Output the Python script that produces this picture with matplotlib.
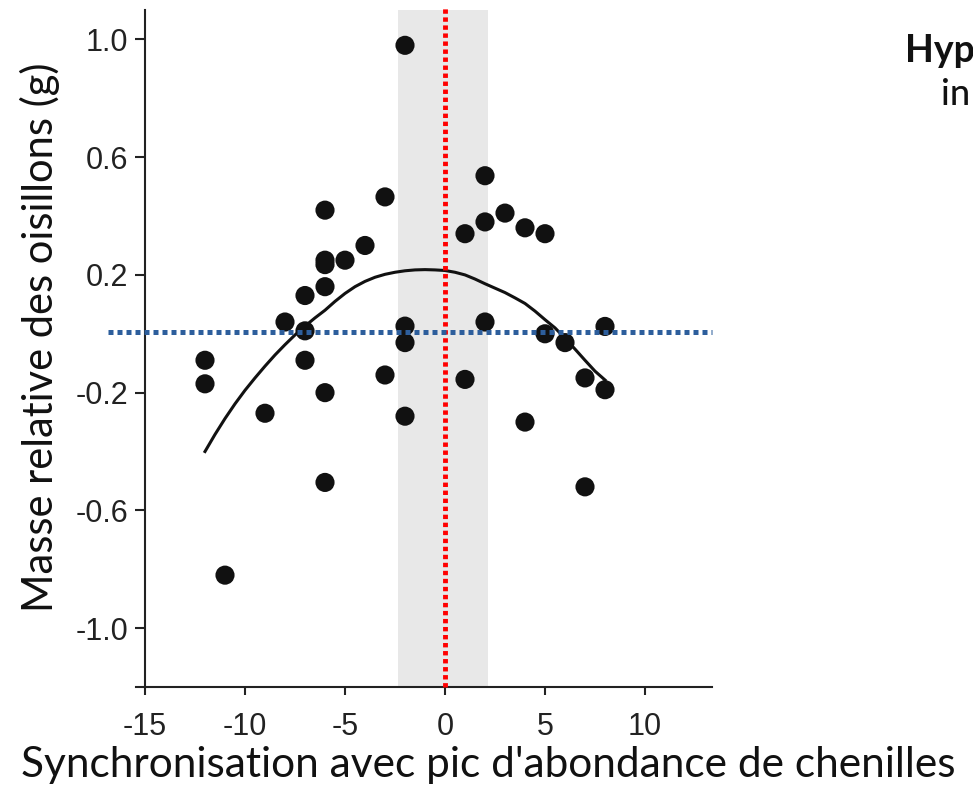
import numpy as np
import matplotlib
matplotlib.use("Agg")
import matplotlib.pyplot as plt

# Points : synchronisation (jours) et masse relative (g)
sync_jours = [-2, -12, -12, -11, -9, -8, -7, -7, -7, -6, -6, -6, -6, -6, -6,
              -5, -4, -3, -3, -2, -2, -2, 1, 1, 2, 2, 2, 3, 4, 4, 5, 5, 6,
              7, 7, 8, 8]
masse_rel = [0.98, -0.09, -0.17, -0.82, -0.27, 0.04, 0.13, 0.01, -0.09, 0.42,
             0.25, 0.235, 0.16, -0.20, -0.505, 0.25, 0.30, 0.465, -0.14, 0.026,
             -0.03, -0.28, 0.34, -0.155, 0.38, 0.537, 0.04, 0.41, 0.36, -0.30,
             0.34, 0.0, -0.03, -0.15, -0.52, 0.025, -0.19]

# Courbe ajustée (tracé)
courbe_x = [-12, -11.5, -11, -10.5, -10, -9.5, -9, -8.5, -8, -7.5, -7, -6.5,
            -6, -5.5, -5, -4.5, -4, -3.5, -3, -2.5, -2, -1.5, -1, -0.5, 0,
            0.5, 1, 1.5, 2, 2.5, 3, 3.5, 4, 4.5, 5, 5.5, 6, 6.5, 7, 7.5, 8]
courbe_y = [-0.40, -0.342, -0.288, -0.238, -0.192, -0.15, -0.11, -0.072, -0.037,
            -0.004, 0.026, 0.054, 0.08, 0.11, 0.137, 0.16, 0.178, 0.192, 0.202,
            0.209, 0.214, 0.217, 0.218, 0.217, 0.215, 0.209, 0.2, 0.186, 0.17,
            0.155, 0.14, 0.122, 0.103, 0.077, 0.048, 0.02, -0.015, -0.052,
            -0.09, -0.127, -0.157]

bande = (-2.35, 2.15)
xticks = [-15, -10, -5, 0, 5, 10]
yticks = [-1.0, -0.6, -0.2, 0.2, 0.6, 1.0]

fig = plt.figure(figsize=(9.73, 7.87), dpi=100)
ax = fig.add_axes([145 / 973, 1 - 687 / 787, (712 - 145) / 973, (687 - 10) / 787])

ax.axvspan(bande[0], bande[1], color='#e8e8e8', lw=0, zorder=0)
ax.plot(courbe_x, courbe_y, color='#111111', lw=2.2, zorder=3,
        solid_joinstyle='round')
ax.scatter(sync_jours, masse_rel, s=190, color='#111111', edgecolors='none', zorder=4)

# ligne rouge verticale (pic) et ligne bleue horizontale (zéro)
ax.axvline(0, ymin=0, ymax=1.003, color='red', lw=3.5, dashes=(0.9, 0.75),
           dash_capstyle='butt', zorder=5, clip_on=False)
ax.plot([-16.85, 13.35], [0.005, 0.005], color='#2d5e9c', lw=3.6,
        dashes=(1.0, 0.8), dash_capstyle='butt', zorder=5, clip_on=False)

ax.set_xlim(-15, 13.35)
ax.set_ylim(-1.2, 1.1)
ax.set_xticks(xticks)
ax.set_yticks(yticks)
ax.set_xticklabels([str(v) for v in xticks])
ax.set_yticklabels(['%.1f' % v for v in yticks])

for s in ['top', 'right']:
    ax.spines[s].set_visible(False)
for s in ['left', 'bottom']:
    ax.spines[s].set_linewidth(1.5)
    ax.spines[s].set_color('#222222')
ax.spines['bottom'].set_bounds(-15.45, 13.35)

tick_font = ['Liberation Sans', 'DejaVu Sans']
ax.tick_params(axis='y', length=7, width=1.5, pad=5, labelsize=22, colors='#222222')
ax.tick_params(axis='x', length=6, width=1.5, pad=12, labelsize=22, colors='#222222')
for lab in ax.get_xticklabels() + ax.get_yticklabels():
    lab.set_family(tick_font)

label_font = ['Lato', 'DejaVu Sans']
fig.text(488 / 973, 1 - 765 / 787, "Synchronisation avec pic d'abondance de chenilles",
         ha='center', va='center', fontsize=30.5, family=label_font, color='#111111')
fig.text(40 / 973, 1 - 337 / 787, "Masse relative des oisillons (g)",
         ha='center', va='center', rotation=90, fontsize=30, family=label_font,
         color='#111111')

# texte coupé au bord droit dans l'original : seul le début est visible
fig.text(905 / 973, 1 - 62 / 787, "Hyp", ha='left', va='baseline',
         fontsize=27, fontweight='bold', family=label_font, color='#111111')
fig.text(970 / 973, 1 - 105 / 787, "in", ha='right', va='baseline',
         fontsize=26, fontweight='medium', family=label_font, color='#111111')

fig.savefig('out.png', dpi=100)
